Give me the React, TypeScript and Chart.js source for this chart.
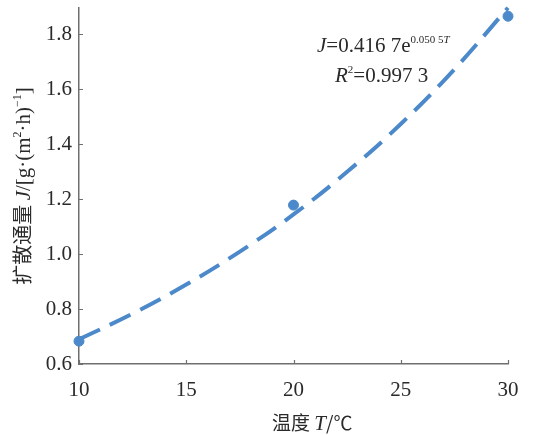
import React, { useEffect, useRef } from "react";
import { Chart, registerables } from "chart.js";

Chart.register(...registerables);

const temps = [10, 20, 30];
const fluxValues = [0.683, 1.178, 1.865];
const trendT = [10, 12.5, 15, 17.5, 20, 22.5, 25, 27.5, 30];
const trendJ = [0.69, 0.783, 0.889, 1.009, 1.144, 1.299, 1.473, 1.672, 1.896];
const xTicks = [10, 15, 20, 25, 30];
const yTicks = [0.6, 0.8, 1.0, 1.2, 1.4, 1.6, 1.8];

const BLUE = "rgb(76,137,202)";
const AXIS = "#6f6f6f";
const TEXT = "#2a2a2a";
const SERIF = "'Liberation Serif', 'DejaVu Serif', serif";
const CJK = "'Noto Sans CJK SC', sans-serif";

type Run = { text: string; font: string; dy?: number };

function runsWidth(ctx: CanvasRenderingContext2D, runs: Run[]) {
  let w = 0;
  for (const r of runs) {
    ctx.font = r.font;
    w += ctx.measureText(r.text).width;
  }
  return w;
}

function drawRuns(ctx: CanvasRenderingContext2D, x: number, y: number, runs: Run[]) {
  let cx = x;
  for (const r of runs) {
    ctx.font = r.font;
    ctx.fillText(r.text, cx, y + (r.dy || 0));
    cx += ctx.measureText(r.text).width;
  }
}

const decorPlugin = {
  id: "decor",
  afterDraw(chart: any) {
    const ctx: CanvasRenderingContext2D = chart.ctx;
    const xs = chart.scales.x;
    const ys = chart.scales.y;
    const area = chart.chartArea;
    ctx.save();
    // inward tick marks
    ctx.strokeStyle = AXIS;
    ctx.lineWidth = 1.2;
    ctx.beginPath();
    for (const v of xTicks) {
      const px = Math.round(xs.getPixelForValue(v)) + 0.5;
      ctx.moveTo(px, area.bottom);
      ctx.lineTo(px, area.bottom - 4);
    }
    for (const v of yTicks) {
      const py = Math.round(ys.getPixelForValue(v)) + 0.5;
      ctx.moveTo(area.left, py);
      ctx.lineTo(area.left + 4, py);
    }
    ctx.stroke();

    ctx.fillStyle = TEXT;
    ctx.textBaseline = "alphabetic";
    ctx.textAlign = "left";
    // x title
    drawRuns(ctx, 272, 430, [
      { text: "温度 ", font: `19px ${CJK}` },
      { text: "T", font: `italic 21px ${SERIF}` },
      { text: "/℃", font: `19px ${CJK}` },
    ]);
    // y title (rotated)
    const yRuns: Run[] = [
      { text: "扩散通量 ", font: `20px ${CJK}` },
      { text: "J", font: `italic 21px ${SERIF}` },
      { text: "/[g·(m", font: `21px ${SERIF}` },
      { text: "2", font: `12px ${SERIF}`, dy: -9 },
      { text: "·h)", font: `21px ${SERIF}` },
      { text: "−1", font: `12px ${SERIF}`, dy: -9 },
      { text: "]", font: `21px ${SERIF}` },
    ];
    const yw = runsWidth(ctx, yRuns);
    const cy = (area.top + area.bottom) / 2;
    ctx.translate(30, cy + yw / 2);
    ctx.rotate(-Math.PI / 2);
    drawRuns(ctx, 0, 0, yRuns);
    ctx.setTransform(1, 0, 0, 1, 0, 0);
    // equation
    drawRuns(ctx, 317, 52, [
      { text: "J", font: `italic 21px ${SERIF}` },
      { text: "=0.416 7e", font: `21px ${SERIF}` },
      { text: "0.050 5", font: `11px ${SERIF}`, dy: -9 },
      { text: "T", font: `italic 11px ${SERIF}`, dy: -9 },
    ]);
    drawRuns(ctx, 335, 82, [
      { text: "R", font: `italic 21px ${SERIF}` },
      { text: "2", font: `11px ${SERIF}`, dy: -9 },
      { text: "=0.997 3", font: `21px ${SERIF}` },
    ]);
    ctx.restore();
  },
};

export default function App() {
  const ref = useRef<HTMLCanvasElement>(null);
  useEffect(() => {
    if (!ref.current) return;
    const chart = new Chart(ref.current, {
      type: "scatter",
      data: {
        datasets: [
          {
            data: trendT.map((t, i) => ({ x: t, y: trendJ[i] })),
            showLine: true,
            borderColor: BLUE,
            borderWidth: 4,
            borderDash: [23, 11],
            pointRadius: 0,
            tension: 0.4,
            fill: false,
            clip: false,
          },
          {
            data: temps.map((t, i) => ({ x: t, y: fluxValues[i] })),
            backgroundColor: BLUE,
            borderColor: BLUE,
            pointRadius: 5,
            showLine: false,
            clip: false,
          },
        ],
      },
      options: {
        responsive: false,
        animation: false,
        devicePixelRatio: 1,
        layout: { padding: { top: 8, right: 28, left: 0, bottom: 0 } },
        plugins: { legend: { display: false }, tooltip: { enabled: false } },
        scales: {
          x: {
            type: "linear",
            min: 10,
            max: 30,
            afterBuildTicks: (s: any) => {
              s.ticks = xTicks.map((v) => ({ value: v }));
            },
            afterFit: (s: any) => {
              s.height = 71;
              s.paddingLeft = 0;
              s.paddingRight = 0;
            },
            grid: { display: false, drawTicks: false },
            border: { display: true, color: AXIS, width: 1.5 },
            ticks: {
              padding: 14,
              color: TEXT,
              font: { family: SERIF, size: 21 },
              maxRotation: 0,
            },
          },
          y: {
            type: "linear",
            min: 0.6,
            max: 1.895,
            afterBuildTicks: (s: any) => {
              s.ticks = yTicks.map((v) => ({ value: v }));
            },
            afterFit: (s: any) => {
              s.width = 79;
              s.paddingTop = 0;
              s.paddingBottom = 0;
            },
            grid: { display: false, drawTicks: false },
            border: { display: true, color: AXIS, width: 1.5 },
            ticks: {
              padding: 7,
              color: TEXT,
              font: { family: SERIF, size: 21 },
              callback: (v: any) => Number(v).toFixed(1),
            },
          },
        },
      },
      plugins: [decorPlugin],
    } as any);
    return () => chart.destroy();
  }, []);
  return (
    <div style={{ position: "absolute", left: 0, top: 0, width: 536, height: 435, background: "#fff" }}>
      <canvas ref={ref} width={536} height={435} />
    </div>
  );
}
